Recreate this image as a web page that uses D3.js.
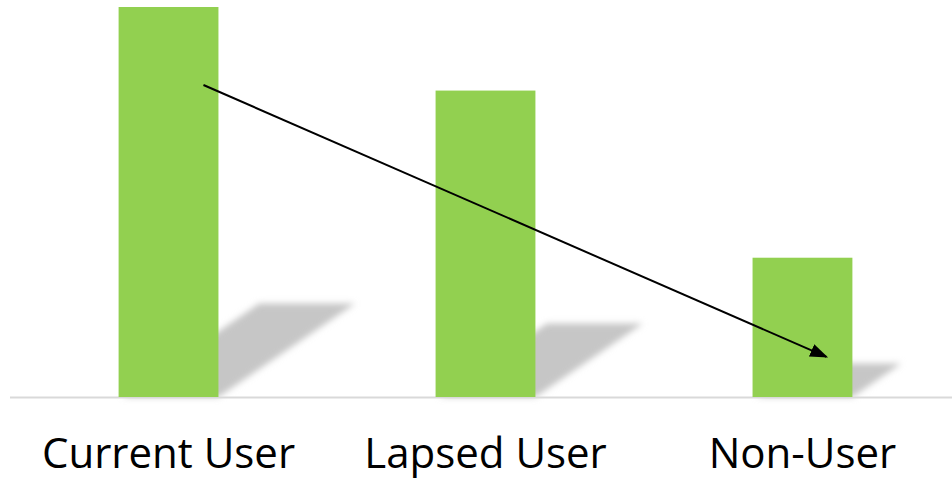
<!DOCTYPE html>
<html>
<head>
<meta charset="utf-8">
<script src="https://cdn.jsdelivr.net/npm/d3@7"></script>
<style>
  html, body { margin: 0; padding: 0; background: #fff; }
  svg { display: block; }
</style>
</head>
<body>
<svg id="chart" width="952" height="483"></svg>
<script>
// Categories and values
const categories = ["Current User", "Lapsed User", "Non-User"];
const values = [70, 55, 25];

// Trend arrow, given in data terms (category, offset within the band, value)
const arrowFrom = { category: "Current User", offset: 0.85, value: 56 };
const arrowTo = { category: "Non-User", offset: 0.74, value: 7.2 };

const width = 952, height = 483;
const baseline = 397;

const svg = d3.select("#chart");

const x = d3.scaleBand()
  .domain(categories)
  .range([14, 957])
  .paddingInner(0.685)
  .paddingOuter(0.33);

const y = d3.scaleLinear()
  .domain([0, 70])
  .range([baseline, 7]);

const defs = svg.append("defs");
defs.append("filter")
  .attr("id", "soft")
  .attr("x", "-20%").attr("y", "-20%")
  .attr("width", "140%").attr("height", "140%")
  .append("feGaussianBlur")
  .attr("stdDeviation", 3.2);

defs.append("marker")
  .attr("id", "head")
  .attr("viewBox", "0 0 10 10")
  .attr("refX", 9).attr("refY", 5)
  .attr("markerWidth", 9).attr("markerHeight", 9)
  .attr("markerUnits", "strokeWidth")
  .attr("orient", "auto")
  .append("path")
  .attr("d", "M0,1.3 L10,5 L0,8.7 Z")
  .attr("fill", "#000");

// Perspective shadows cast to the right of each bar
const shadowScale = 0.24, shadowSkew = 1.46;
svg.append("g")
  .selectAll("path")
  .data(categories)
  .join("path")
  .attr("d", (d, i) => {
    const xl = x(d) + 4, xr = x(d) + x.bandwidth();
    const h = (baseline - y(values[i])) * shadowScale;
    const dx = h * shadowSkew;
    return `M${xl},${baseline} L${xr},${baseline} L${xr + dx},${baseline - h} L${xl + dx},${baseline - h} Z`;
  })
  .attr("fill", "#c6c6c6")
  .attr("filter", "url(#soft)");

// Baseline axis
svg.append("line")
  .attr("x1", 10).attr("x2", width)
  .attr("y1", baseline + 0.5).attr("y2", baseline + 0.5)
  .attr("stroke", "#d9d9d9")
  .attr("stroke-width", 2);

// Bars
svg.append("g")
  .selectAll("rect")
  .data(categories)
  .join("rect")
  .attr("x", d => x(d))
  .attr("y", (d, i) => y(values[i]))
  .attr("width", x.bandwidth())
  .attr("height", (d, i) => baseline - y(values[i]))
  .attr("fill", "#92d050");

// Category labels
const xAxis = d3.axisBottom(x).tickSize(0).tickPadding(0);
const axisG = svg.append("g")
  .attr("transform", `translate(0,${baseline})`)
  .call(xAxis);
axisG.select(".domain").remove();
axisG.selectAll("text")
  .attr("dy", null)
  .attr("y", 71)
  .attr("fill", "#000")
  .style("font-family", "'Open Sans', 'Noto Sans', sans-serif")
  .style("font-size", "42px");

// Trend arrow
svg.append("line")
  .attr("x1", x(arrowFrom.category) + x.bandwidth() * arrowFrom.offset)
  .attr("y1", y(arrowFrom.value))
  .attr("x2", x(arrowTo.category) + x.bandwidth() * arrowTo.offset)
  .attr("y2", y(arrowTo.value))
  .attr("stroke", "#000")
  .attr("stroke-width", 2)
  .attr("marker-end", "url(#head)");
</script>
</body>
</html>
